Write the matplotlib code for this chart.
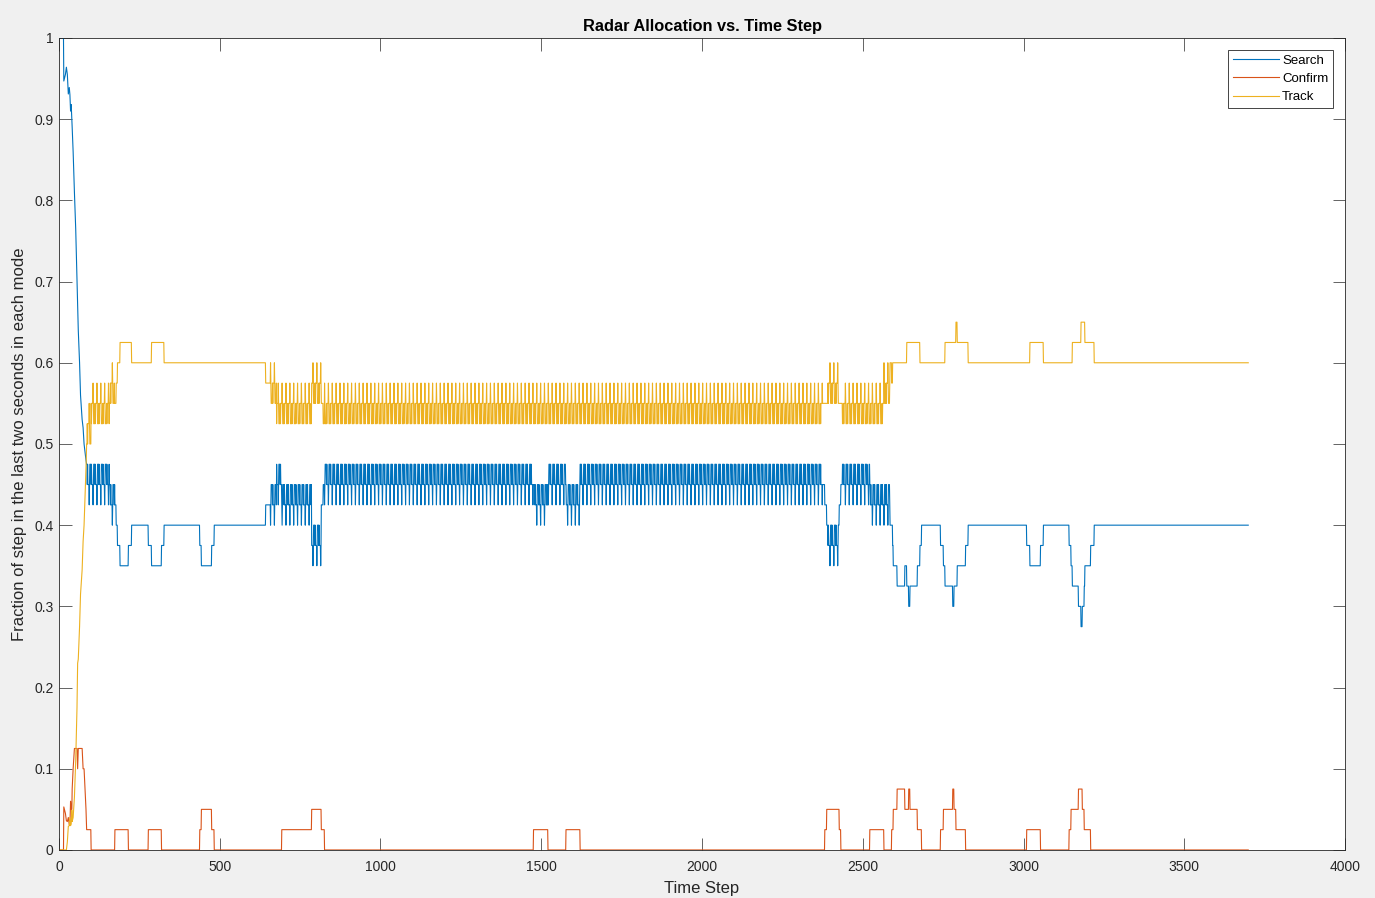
import numpy as np
import matplotlib
matplotlib.use("Agg")
import matplotlib.pyplot as plt

plt.rcParams['font.family'] = ['Liberation Sans', 'DejaVu Sans']

# --- data ------------------------------------------------------------------
N_STEPS = 3700

# start-up transient (window not yet full)
early_t = [0, 14, 15, 20, 23, 26, 29, 32, 34, 36, 38, 40, 41, 44, 48, 52,
           56, 58, 60, 64, 67, 72, 75, 78, 81, 84]
early_search = [1.0, 1.0, 0.947, 0.955, 0.964, 0.955, 0.931, 0.939, 0.93,
                0.91, 0.918, 0.901, 0.89, 0.86, 0.81, 0.765, 0.70, 0.67,
                0.64, 0.60, 0.56, 0.53, 0.52, 0.50, 0.49, 0.48]
early_confirm = [0.0, 0.0, 0.053, 0.045, 0.036, 0.035, 0.04, 0.031, 0.03,
                 0.06, 0.05, 0.05, 0.075, 0.1, 0.125, 0.125, 0.125, 0.1,
                 0.125, 0.125, 0.125, 0.125, 0.1, 0.1, 0.075, 0.05]

# repeating shape of the busy stretches, in 1/40 steps below the band top
band_cycle = [0, 0, 0, 0, 1, 0, 1, 1, 1, 1, 2, 1]

# search fraction: (start step, level / band top, busy band?)
search_runs = [
    (86, 0.475, 1), (157, 0.45, 1), (174, 0.425, 0), (178, 0.4, 0),
    (182, 0.375, 0), (190, 0.35, 0), (216, 0.375, 0), (226, 0.4, 0),
    (278, 0.375, 0), (288, 0.35, 0), (319, 0.375, 0), (327, 0.4, 0),
    (438, 0.375, 0), (443, 0.35, 0), (475, 0.375, 0), (483, 0.4, 0),
    (643, 0.425, 0), (656, 0.45, 1), (677, 0.475, 1), (693, 0.45, 1),
    (786, 0.4, 1), (816, 0.425, 0), (822, 0.45, 0), (826, 0.475, 1),
    (1476, 0.45, 1), (1521, 0.475, 1), (1577, 0.45, 1), (1621, 0.475, 1),
    (2376, 0.45, 0), (2382, 0.425, 0), (2388, 0.4, 1), (2427, 0.425, 0),
    (2432, 0.45, 0), (2437, 0.475, 1), (2522, 0.45, 1), (2585, 0.4, 0),
    (2593, 0.375, 0), (2595, 0.35, 0), (2607, 0.325, 0), (2631, 0.35, 0),
    (2637, 0.325, 0), (2643, 0.3, 0), (2647, 0.325, 0), (2670, 0.35, 0),
    (2678, 0.375, 0), (2683, 0.4, 0), (2742, 0.375, 0), (2751, 0.35, 0),
    (2756, 0.325, 0), (2780, 0.3, 0), (2784, 0.325, 0), (2794, 0.35, 0),
    (2820, 0.375, 0), (2828, 0.4, 0), (3010, 0.375, 0), (3020, 0.35, 0),
    (3053, 0.375, 0), (3062, 0.4, 0), (3142, 0.375, 0), (3148, 0.35, 0),
    (3152, 0.325, 0), (3171, 0.3, 0), (3179, 0.275, 0), (3183, 0.3, 0),
    (3189, 0.325, 0), (3191, 0.35, 0), (3209, 0.375, 0), (3220, 0.4, 0),
]

# confirm fraction: (start step, level)
confirm_runs = [
    (86, 0.025), (100, 0.0), (174, 0.025), (216, 0.0), (278, 0.025),
    (319, 0.0), (438, 0.025), (443, 0.05), (475, 0.025), (483, 0.0),
    (693, 0.025), (786, 0.05), (816, 0.025), (826, 0.0), (1476, 0.025),
    (1521, 0.0), (1577, 0.025), (1621, 0.0), (2382, 0.025), (2388, 0.05),
    (2427, 0.025), (2432, 0.0), (2522, 0.025), (2566, 0.0), (2590, 0.025),
    (2595, 0.05), (2607, 0.075), (2631, 0.05), (2643, 0.075), (2647, 0.05),
    (2670, 0.025), (2683, 0.0), (2742, 0.025), (2751, 0.05), (2780, 0.075),
    (2784, 0.05), (2790, 0.025), (2820, 0.0), (3010, 0.025), (3053, 0.0),
    (3142, 0.025), (3148, 0.05), (3171, 0.075), (3183, 0.05), (3189, 0.025),
    (3209, 0.0),
]


def expand(runs, n_end, band=None):
    t0 = runs[0][0]
    y = np.zeros(n_end - t0)
    cyc = np.array(band) if band is not None else None
    for i, run in enumerate(runs):
        start = run[0]
        end = runs[i + 1][0] if i + 1 < len(runs) else n_end
        steps = np.arange(start, end)
        if len(run) > 2 and run[2]:
            y[start - t0:end - t0] = run[1] - 0.025 * cyc[steps % len(cyc)]
        else:
            y[start - t0:end - t0] = run[1]
    return y


late_t = np.arange(search_runs[0][0], N_STEPS)
t = np.concatenate([early_t, late_t])
search = np.concatenate([early_search, expand(search_runs, N_STEPS, band_cycle)])
confirm = np.concatenate([early_confirm, expand(confirm_runs, N_STEPS)])
track = np.clip(1.0 - search - confirm, 0, 1)

# --- plot -------------------------------------------------------------------
fig = plt.figure(figsize=(13.75, 8.98), dpi=100, facecolor='#f0f0f0')
ax = fig.add_axes([0.0429, 0.0535, 0.9353, 0.9042])

lw = 0.8
ax.plot(t, search, color='#0072BD', lw=lw, label='Search')
ax.plot(t, confirm, color='#D95319', lw=lw, label='Confirm')
ax.plot(t, track, color='#EDB120', lw=lw, label='Track')

ax.set_xlim(0, 4000)
ax.set_ylim(0, 1)
ax.set_xticks(np.arange(0, 4001, 500))
ax.set_yticks(np.arange(0, 1.01, 0.1))
ax.set_yticklabels(['0', '0.1', '0.2', '0.3', '0.4', '0.5', '0.6', '0.7',
                    '0.8', '0.9', '1'])

ax.tick_params(direction='in', top=True, right=True, length=9, width=0.5,
               colors='#262626', labelsize=10)
ax.tick_params(axis='x', pad=7)
ax.tick_params(axis='y', pad=4)
for s in ax.spines.values():
    s.set_color('#262626')
    s.set_linewidth(0.6)

ax.set_title('Radar Allocation vs. Time Step', fontsize=11.8, fontweight='bold',
             color='black', pad=5)
ax.set_xlabel('Time Step', fontsize=12, color='#262626', labelpad=5)
ax.set_ylabel('Fraction of step in the last two seconds in each mode',
              fontsize=12, color='#262626', labelpad=5)

leg = ax.legend(loc='upper right', bbox_to_anchor=(0.9907, 0.9852),
                borderaxespad=0, fontsize=9.5, fancybox=False, framealpha=1,
                edgecolor='#262626', handlelength=3.5, handletextpad=0.25,
                labelspacing=0.45, borderpad=0.35)
leg.get_frame().set_linewidth(0.6)

fig.savefig('out.png', dpi=100, facecolor=fig.get_facecolor())
